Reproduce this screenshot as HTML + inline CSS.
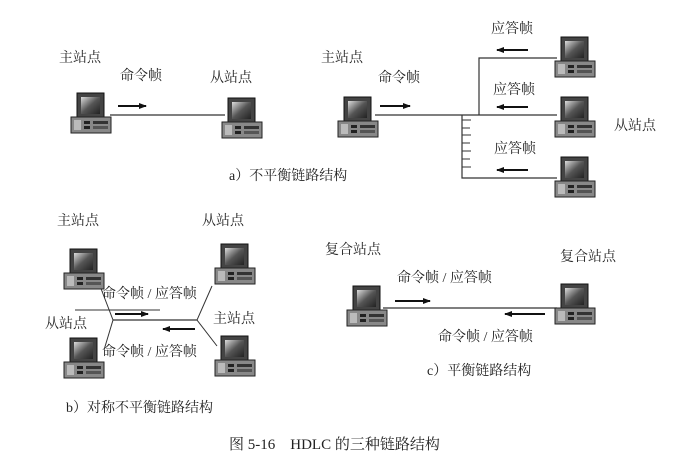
<!DOCTYPE html>
<html><head><meta charset="utf-8"><style>
body{margin:0;background:#fff;}
svg{display:block;}
text{font-family:"Liberation Serif","Noto Serif CJK SC","Noto Sans CJK SC",serif;font-size:14px;fill:#222;}
</style></head><body>
<svg width="696" height="469" viewBox="0 0 696 469" xmlns="http://www.w3.org/2000/svg">
<defs>
<linearGradient id="scr" x1="0" y1="0" x2="1" y2="1"><stop offset="0" stop-color="#ddd"/><stop offset="0.5" stop-color="#555"/><stop offset="1" stop-color="#222"/></linearGradient>
<g id="pc">
<rect x="6" y="1" width="27" height="27" fill="#444" stroke="#111"/>
<rect x="10" y="5" width="19" height="17" fill="url(#scr)"/>
<rect x="0" y="25" width="40" height="16" fill="#888" stroke="#222"/>
<rect x="3" y="28" width="7" height="10" fill="#bbb"/>
<rect x="13" y="29" width="6" height="3" fill="#222"/>
<rect x="13" y="34" width="6" height="3" fill="#222"/>
<rect x="22" y="29" width="15" height="3" fill="#333"/>
<rect x="22" y="34" width="15" height="3" fill="#555"/>
</g>
<marker id="ah" markerWidth="8" markerHeight="6" refX="7" refY="3" orient="auto" markerUnits="userSpaceOnUse"><path d="M0,0 L8,3 L0,6 z" fill="#111"/></marker>
</defs>
<g stroke="#333" stroke-width="1.2" fill="none">
<line x1="110" y1="115" x2="225" y2="115"/>
<line x1="118" y1="106" x2="146" y2="106" stroke="#111" stroke-width="2" marker-end="url(#ah)"/>
<line x1="375" y1="115" x2="557" y2="115"/>
<polyline points="557,58 479,58 479,115"/>
<polyline points="462,115 462,178 557,178"/>
<g stroke-width="1"><line x1="462" y1="120" x2="471" y2="120"/><line x1="462" y1="128" x2="470" y2="128"/><line x1="462" y1="135" x2="471" y2="135"/><line x1="462" y1="143" x2="470" y2="143"/><line x1="462" y1="151" x2="471" y2="151"/><line x1="462" y1="159" x2="470" y2="159"/><line x1="462" y1="167" x2="471" y2="167"/></g>
<line x1="380" y1="106" x2="410" y2="106" stroke="#111" stroke-width="2" marker-end="url(#ah)"/>
<line x1="528" y1="50" x2="497" y2="50" stroke="#111" stroke-width="2" marker-end="url(#ah)"/>
<line x1="528" y1="107" x2="497" y2="107" stroke="#111" stroke-width="2" marker-end="url(#ah)"/>
<line x1="528" y1="170" x2="497" y2="170" stroke="#111" stroke-width="2" marker-end="url(#ah)"/>
<line x1="75" y1="310" x2="160" y2="310" stroke-width="1"/>
<line x1="113" y1="320" x2="197" y2="320"/>
<polyline points="100,286 113,320 104,350" stroke-width="1"/>
<polyline points="212,286 197,320 217,346" stroke-width="1"/>
<line x1="115" y1="314" x2="148" y2="314" stroke="#111" stroke-width="2" marker-end="url(#ah)"/>
<line x1="195" y1="329" x2="163" y2="329" stroke="#111" stroke-width="2" marker-end="url(#ah)"/>
<line x1="383" y1="308" x2="557" y2="308"/>
<line x1="395" y1="301" x2="430" y2="301" stroke="#111" stroke-width="2" marker-end="url(#ah)"/>
<line x1="545" y1="314" x2="505" y2="314" stroke="#111" stroke-width="2" marker-end="url(#ah)"/>
</g>
<use href="#pc" x="71" y="92"/>
<use href="#pc" x="222" y="97"/>
<use href="#pc" x="338" y="96"/>
<use href="#pc" x="555" y="36"/>
<use href="#pc" x="555" y="96"/>
<use href="#pc" x="555" y="156"/>
<use href="#pc" x="64" y="248"/>
<use href="#pc" x="215" y="243"/>
<use href="#pc" x="64" y="337"/>
<use href="#pc" x="215" y="335"/>
<use href="#pc" x="347" y="285"/>
<use href="#pc" x="555" y="283"/>
<text x="59" y="62">主站点</text>
<text x="120" y="80">命令帧</text>
<text x="210" y="82">从站点</text>
<text x="229" y="180">a）不平衡链路结构</text>
<text x="321" y="62">主站点</text>
<text x="378" y="82">命令帧</text>
<text x="491" y="33">应答帧</text>
<text x="493" y="94">应答帧</text>
<text x="494" y="153">应答帧</text>
<text x="614" y="130">从站点</text>
<text x="57" y="225">主站点</text>
<text x="202" y="225">从站点</text>
<text x="102" y="298">命令帧 / 应答帧</text>
<text x="45" y="328">从站点</text>
<text x="213" y="323">主站点</text>
<text x="102" y="356">命令帧 / 应答帧</text>
<text x="66" y="412">b）对称不平衡链路结构</text>
<text x="325" y="254">复合站点</text>
<text x="560" y="261">复合站点</text>
<text x="397" y="282">命令帧 / 应答帧</text>
<text x="438" y="341">命令帧 / 应答帧</text>
<text x="427" y="375">c）平衡链路结构</text>
<text x="229" y="449" style="font-size:15px">图 5-16　HDLC 的三种链路结构</text>
</svg>
</body></html>
